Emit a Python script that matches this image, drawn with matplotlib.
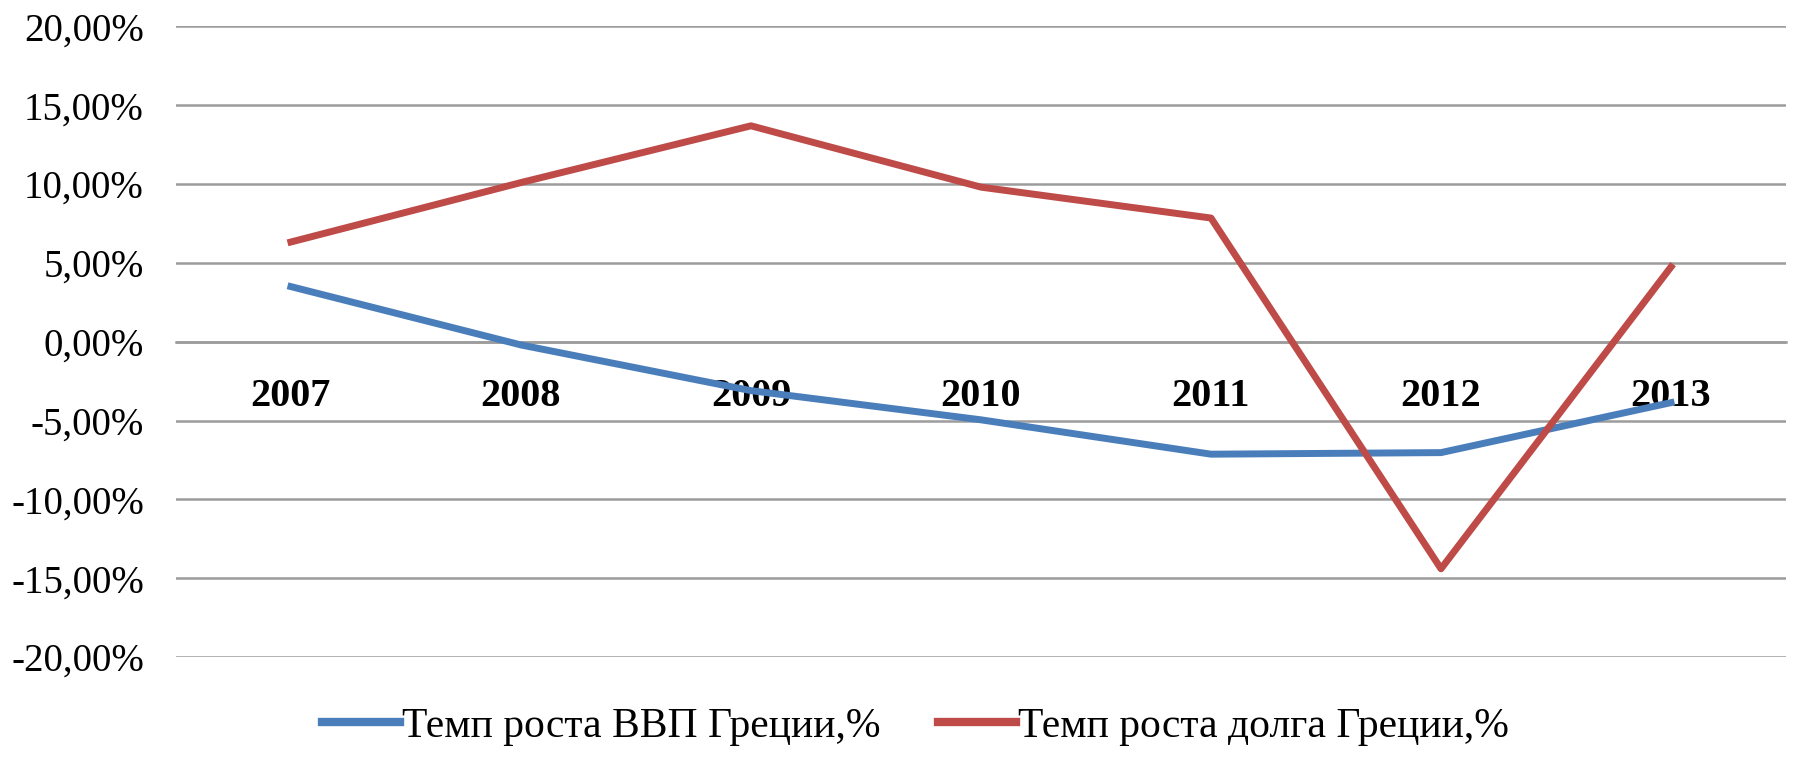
import matplotlib
matplotlib.use('Agg')
import matplotlib.pyplot as plt
from matplotlib.ticker import FuncFormatter

years = ['2007', '2008', '2009', '2010', '2011', '2012', '2013']
gdp_growth = [3.5, -0.2, -3.1, -4.95, -7.13, -7.03, -3.86]    # Темп роста ВВП Греции
debt_growth = [6.33, 10.1, 13.7, 9.81, 7.85, -14.4, 4.75]     # Темп роста долга Греции
y_ticks = [-20, -15, -10, -5, 0, 5, 10, 15, 20]

plt.rcParams['font.family'] = ['Liberation Serif', 'DejaVu Serif']

fig = plt.figure(figsize=(17.95, 7.57), dpi=100)
ax = fig.add_axes([0.098, 0.132, 0.897, 0.833])

x = list(range(len(years)))
ax.plot(x, gdp_growth, color='#4A7EBB', lw=5.0, solid_joinstyle='round',
        label='Темп роста ВВП Греции,%', zorder=3)
ax.plot(x, debt_growth, color='#BE4B48', lw=5.0, solid_joinstyle='round',
        label='Темп роста долга Греции,%', zorder=3)

ax.set_xlim(-0.5, len(years) - 0.5)
ax.set_ylim(-20, 20)
ax.set_yticks(y_ticks)
ax.yaxis.set_major_formatter(FuncFormatter(lambda v, p: ('%.2f%%' % v).replace('.', ',')))
ax.tick_params(axis='y', length=0, pad=23, labelsize=28)
ax.grid(axis='y', color='#9C9C9C', lw=1.8)
ax.set_axisbelow(True)

# категории подписаны у нулевой оси
ax.spines['bottom'].set_position(('data', 0))
ax.spines['bottom'].set_color('#9C9C9C')
ax.spines['bottom'].set_linewidth(1.8)
for s in ['top', 'right', 'left']:
    ax.spines[s].set_visible(False)
ax.set_xticks(x)
ax.set_xticklabels(years, fontweight='bold', fontsize=29)
ax.tick_params(axis='x', length=0, pad=26)

leg = fig.legend(loc='lower center', bbox_to_anchor=(0.51, -0.035), ncol=2,
                 frameon=False, fontsize=30, handlelength=1.85, handletextpad=0.05,
                 columnspacing=1.4)
for h in leg.get_lines():
    h.set_linewidth(6)

fig.savefig('out.png', dpi=100)
